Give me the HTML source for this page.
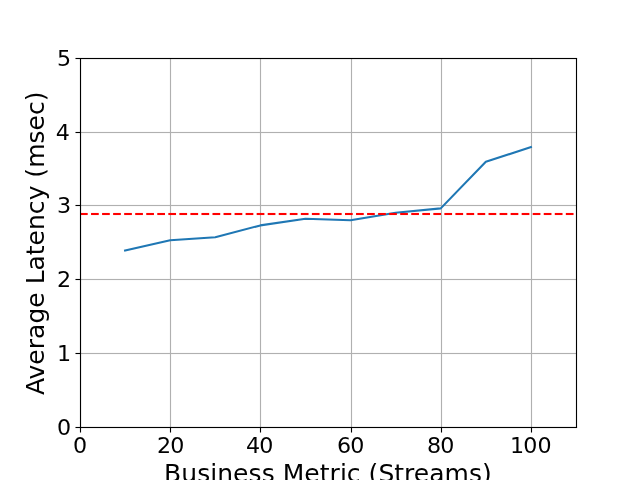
<!DOCTYPE html>
<html>
<head>
<meta charset="utf-8">
<title>Average Latency vs Business Metric</title>
<style>
html,body{margin:0;padding:0;background:#fff;overflow:hidden}
svg{display:block}
text{font-family:"DejaVu Sans","Liberation Sans",sans-serif;fill:#000}
.tick{font-size:22.22px}
.lab{font-size:25px}
</style>
</head>
<body>
<svg width="640" height="480" viewBox="0 0 640 480">
<rect x="0" y="0" width="640" height="480" fill="#ffffff"/>
<!-- grid -->
<g fill="#b0b0b0">
<rect x="170" y="58" width="1" height="369"/>
<rect x="169" y="58" width="3" height="369" opacity="0.063"/>
<rect x="260" y="58" width="1" height="369"/>
<rect x="259" y="58" width="3" height="369" opacity="0.063"/>
<rect x="351" y="58" width="1" height="369"/>
<rect x="350" y="58" width="3" height="369" opacity="0.063"/>
<rect x="441" y="58" width="1" height="369"/>
<rect x="440" y="58" width="3" height="369" opacity="0.063"/>
<rect x="531" y="58" width="1" height="369"/>
<rect x="530" y="58" width="3" height="369" opacity="0.063"/>
<rect x="81" y="353" width="495" height="1"/>
<rect x="81" y="352" width="495" height="3" opacity="0.063"/>
<rect x="81" y="279" width="495" height="1"/>
<rect x="81" y="278" width="495" height="3" opacity="0.063"/>
<rect x="81" y="205" width="495" height="1"/>
<rect x="81" y="204" width="495" height="3" opacity="0.063"/>
<rect x="81" y="132" width="495" height="1"/>
<rect x="81" y="131" width="495" height="3" opacity="0.063"/>
</g>
<!-- ticks -->
<g fill="#000">
<rect x="80" y="428" width="1" height="4"/>
<rect x="80" y="432" width="1" height="1" opacity="0.5"/>
<rect x="79" y="428" width="3" height="4" opacity="0.055"/>
<rect x="79" y="432" width="3" height="1" opacity="0.0275"/>
<rect x="170" y="428" width="1" height="4"/>
<rect x="170" y="432" width="1" height="1" opacity="0.5"/>
<rect x="169" y="428" width="3" height="4" opacity="0.055"/>
<rect x="169" y="432" width="3" height="1" opacity="0.0275"/>
<rect x="260" y="428" width="1" height="4"/>
<rect x="260" y="432" width="1" height="1" opacity="0.5"/>
<rect x="259" y="428" width="3" height="4" opacity="0.055"/>
<rect x="259" y="432" width="3" height="1" opacity="0.0275"/>
<rect x="351" y="428" width="1" height="4"/>
<rect x="351" y="432" width="1" height="1" opacity="0.5"/>
<rect x="350" y="428" width="3" height="4" opacity="0.055"/>
<rect x="350" y="432" width="3" height="1" opacity="0.0275"/>
<rect x="441" y="428" width="1" height="4"/>
<rect x="441" y="432" width="1" height="1" opacity="0.5"/>
<rect x="440" y="428" width="3" height="4" opacity="0.055"/>
<rect x="440" y="432" width="3" height="1" opacity="0.0275"/>
<rect x="531" y="428" width="1" height="4"/>
<rect x="531" y="432" width="1" height="1" opacity="0.5"/>
<rect x="530" y="428" width="3" height="4" opacity="0.055"/>
<rect x="530" y="432" width="3" height="1" opacity="0.0275"/>
<rect x="76" y="427" width="4" height="1"/>
<rect x="75" y="427" width="1" height="1" opacity="0.5"/>
<rect x="76" y="426" width="4" height="3" opacity="0.055"/>
<rect x="75" y="426" width="1" height="3" opacity="0.0275"/>
<rect x="76" y="353" width="4" height="1"/>
<rect x="75" y="353" width="1" height="1" opacity="0.5"/>
<rect x="76" y="352" width="4" height="3" opacity="0.055"/>
<rect x="75" y="352" width="1" height="3" opacity="0.0275"/>
<rect x="76" y="279" width="4" height="1"/>
<rect x="75" y="279" width="1" height="1" opacity="0.5"/>
<rect x="76" y="278" width="4" height="3" opacity="0.055"/>
<rect x="75" y="278" width="1" height="3" opacity="0.0275"/>
<rect x="76" y="205" width="4" height="1"/>
<rect x="75" y="205" width="1" height="1" opacity="0.5"/>
<rect x="76" y="204" width="4" height="3" opacity="0.055"/>
<rect x="75" y="204" width="1" height="3" opacity="0.0275"/>
<rect x="76" y="132" width="4" height="1"/>
<rect x="75" y="132" width="1" height="1" opacity="0.5"/>
<rect x="76" y="131" width="4" height="3" opacity="0.055"/>
<rect x="75" y="131" width="1" height="3" opacity="0.0275"/>
<rect x="76" y="58" width="4" height="1"/>
<rect x="75" y="58" width="1" height="1" opacity="0.5"/>
<rect x="76" y="57" width="4" height="3" opacity="0.055"/>
<rect x="75" y="57" width="1" height="3" opacity="0.0275"/>
</g>
<!-- data -->
<polyline fill="none" stroke="#1f77b4" stroke-width="2.083" stroke-linejoin="round" stroke-linecap="square"
 points="125.09,250.53 170.18,240.18 215.27,237.23 260.36,225.40 305.45,218.75 350.55,220.22 395.64,212.83 440.73,208.40 485.82,161.83 530.91,147.04"/>
<path d="M80 214H576" fill="none" stroke="#ff0000" stroke-width="4" stroke-opacity="0.043" stroke-dasharray="7.7083 3.3333"/>
<path d="M80 214H576" fill="none" stroke="#ff0000" stroke-width="2" stroke-dasharray="7.7083 3.3333"/>
<!-- spines -->
<g fill="#000">
<rect x="79.945" y="58" width="497.11" height="1"/>
<rect x="79.945" y="57" width="497.11" height="1" opacity="0.055"/>
<rect x="79.945" y="59" width="497.11" height="1" opacity="0.0745"/>
<rect x="79.945" y="427" width="497.11" height="1"/>
<rect x="79.945" y="426" width="497.11" height="1" opacity="0.0745"/>
<rect x="79.945" y="428" width="497.11" height="1" opacity="0.055"/>
<rect x="80" y="58" width="1" height="370"/>
<rect x="79" y="58" width="1" height="370" opacity="0.055"/>
<rect x="81" y="58" width="1" height="370" opacity="0.0745"/>
<rect x="576" y="58" width="1" height="370"/>
<rect x="575" y="58" width="1" height="370" opacity="0.055"/>
<rect x="577" y="58" width="1" height="370" opacity="0.055"/>
</g>
<g opacity="0.999">
<!-- tick labels -->
<g class="tick" text-anchor="middle">
<text transform="translate(79.95 453) scale(1.0 0.955)">0</text>
<text transform="translate(170.73 453) scale(1.0 0.955)" dx="0 -0.8">20</text>
<text transform="translate(259.64 453) scale(1.0 0.955)" dx="0 -1">40</text>
<text transform="translate(350.68 453) scale(1.0 0.955)" dx="0 -1">60</text>
<text transform="translate(440.75 453) scale(1.0 0.955)" dx="0 -0.8">80</text>
<text transform="translate(530.83 453) scale(1.0 0.955)" dx="0 -1 0">100</text>
</g>
<g class="tick" text-anchor="end">
<text transform="translate(71.05 435) scale(1.0 0.955)">0</text>
<text transform="translate(71.1 361) scale(1.0 0.955)">1</text>
<text transform="translate(71.1 287) scale(1.0 0.955)">2</text>
<text transform="translate(71.1 213) scale(1.0 0.955)">3</text>
<text transform="translate(70.0 140) scale(1.0 0.955)">4</text>
<text transform="translate(71.1 66) scale(1.0 0.955)">5</text>
</g>
<!-- axis labels -->
<text class="lab" x="164.03 181.21 197.18 210.14 217.21 232.99 248.39 261.66 274.5 282.69 304.18 319.7 329.43 339.94 346.71 360.39 368.46 378.44 394.15 403.88 413.64 429.15 444.39 468.88 481.93" y="482">Business Metric (Streams)</text>
<text class="lab" transform="translate(44.3 243.25) rotate(-90)" x="-151.82 -136.37 -121.54 -106.03 -95.82 -80.28 -64.57 -49.16 -41.08 -27.23 -11.88 -2.34 13.37 28.94 43.02 57.84 65.42 75.6 99.69 112.74 128.15 141.93">Average Latency (msec)</text>
</g>
</svg>
</body>
</html>
